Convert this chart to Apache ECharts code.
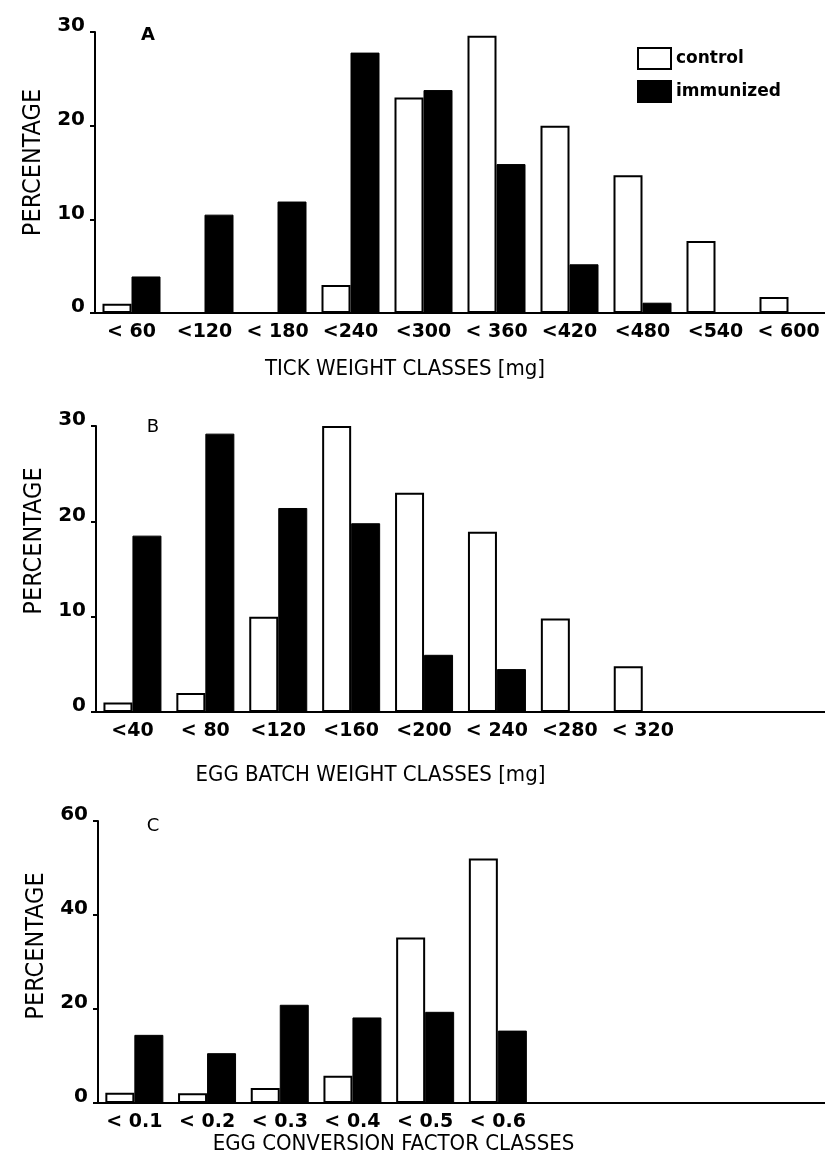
<!DOCTYPE html>
<html><head><meta charset="utf-8">
<script src="https://cdn.jsdelivr.net/npm/echarts@6/dist/echarts.min.js"></script>
<style>html,body{margin:0;padding:0;background:#fff}#c{width:825px;height:1158px}</style>
</head><body><div id="c"></div>
<script>
// ---- data ----
const seriesNames = ['control', 'immunized'];

const catsA = ['< 60', '<120', '< 180', '<240', '<300', '< 360', '<420', '<480', '<540', '< 600'];
const controlA = [1, 0, 0, 3, 23, 29.6, 20, 14.7, 7.7, 1.7];
const immunA   = [3.9, 10.5, 11.9, 27.8, 23.8, 15.9, 5.2, 1.1, 0, 0];

const catsB = ['<40', '< 80', '<120', '<160', '<200', '< 240', '<280', '< 320'];
const controlB = [1, 2, 10, 30, 23, 18.9, 9.8, 4.8];
const immunB   = [18.5, 29.2, 21.4, 19.8, 6, 4.5, 0, 0];

const catsC = ['< 0.1', '< 0.2', '< 0.3', '< 0.4', '< 0.5', '< 0.6'];
const controlC = [2.2, 2.1, 3.2, 5.8, 35.2, 52];
const immunC   = [14.5, 10.6, 20.9, 18.2, 19.4, 15.4];

const yTicksAB = [0, 10, 20, 30];
const yTicksC = [0, 20, 40, 60];

const xTitles = ['TICK WEIGHT CLASSES [mg]', 'EGG BATCH WEIGHT CLASSES [mg]', 'EGG CONVERSION FACTOR CLASSES'];
const yTitle = 'PERCENTAGE';
const panelLetters = ['A', 'B', 'C'];

// ---- layout / styles ----
const NARROW = "'Liberation Sans Narrow','DejaVu Sans Condensed',sans-serif";
const BOLD = "'DejaVu Sans',sans-serif";
const NCATS = 10;
function pad(a) { return a.concat(Array(Math.max(0, NCATS - a.length)).fill('')); }

const grids = [
  {left: 95, top: 32, width: 730, height: 281},
  {left: 96, top: 426, width: 730, height: 286},
  {left: 98, top: 821, width: 730, height: 282}
];
const xNameGap = [45, 52, 11];
const xNameShift = [55, 90, 68];
const yNameUp = [10, 28, 16];

function xAxis(i, cats) {
  return {
    type: 'category', gridIndex: i, data: pad(cats),
    axisLine: {lineStyle: {color: '#000', width: 2}},
    axisTick: {show: false},
    axisLabel: {interval: 0, color: '#000', fontFamily: BOLD, fontWeight: 'bold', fontSize: 19, margin: 10},
    name: xTitles[i], nameLocation: 'middle', nameGap: xNameGap[i],
    nameTextStyle: {fontFamily: NARROW, fontSize: 22, color: '#000', padding: [0, xNameShift[i] * 2, 0, 0]}
  };
}
function yAxis(i, ticks) {
  return {
    type: 'value', gridIndex: i, min: ticks[0], max: ticks[ticks.length - 1], interval: ticks[1] - ticks[0],
    axisLine: {show: true, lineStyle: {color: '#000', width: 2}},
    axisTick: {show: true, length: 5, lineStyle: {color: '#000', width: 2}},
    splitLine: {show: false},
    axisLabel: {color: '#000', fontFamily: BOLD, fontWeight: 'bold', fontSize: 20, margin: 10,
                verticalAlign: 'bottom', lineHeight: 12},
    name: yTitle, nameLocation: 'middle', nameGap: 48,
    nameTextStyle: {fontFamily: NARROW, fontSize: 25, color: '#000', padding: [0, 0, 0, yNameUp[i] * 2]}
  };
}
function bars(i, ctrl, imm) {
  return [
    {name: seriesNames[0], type: 'bar', xAxisIndex: i, yAxisIndex: i, data: ctrl, barWidth: 29, barGap: '0%',
     itemStyle: {color: '#fff', borderColor: '#000', borderWidth: 2}, animation: false},
    {name: seriesNames[1], type: 'bar', xAxisIndex: i, yAxisIndex: i, data: imm, barWidth: 29, barGap: '0%',
     itemStyle: {color: '#000', borderColor: '#000', borderWidth: 1}, animation: false}
  ];
}

const letterPos = [[148, 35], [153, 427], [153, 826]];

const chart = echarts.init(document.getElementById('c'), null, {renderer: 'canvas'});
chart.setOption({
  backgroundColor: '#fff',
  animation: false,
  grid: grids,
  xAxis: [xAxis(0, catsA), xAxis(1, catsB), xAxis(2, catsC)],
  yAxis: [yAxis(0, yTicksAB), yAxis(1, yTicksAB), yAxis(2, yTicksC)],
  legend: {
    data: seriesNames, orient: 'vertical', left: 632, top: 42,
    itemWidth: 33, itemHeight: 21, itemGap: 10, icon: 'rect',
    textStyle: {fontFamily: BOLD, fontWeight: 'bold', fontSize: 17, color: '#000'}
  },
  graphic: panelLetters.map((t, i) => ({
    type: 'text', x: letterPos[i][0], y: letterPos[i][1],
    style: {text: t, fontFamily: BOLD, fontWeight: i === 0 ? 'bold' : 'normal', fontSize: 18, fill: '#000',
            align: 'center', verticalAlign: 'middle'}
  })),
  series: [].concat(bars(0, controlA, immunA), bars(1, controlB, immunB), bars(2, controlC, immunC))
});
</script>
</body></html>
